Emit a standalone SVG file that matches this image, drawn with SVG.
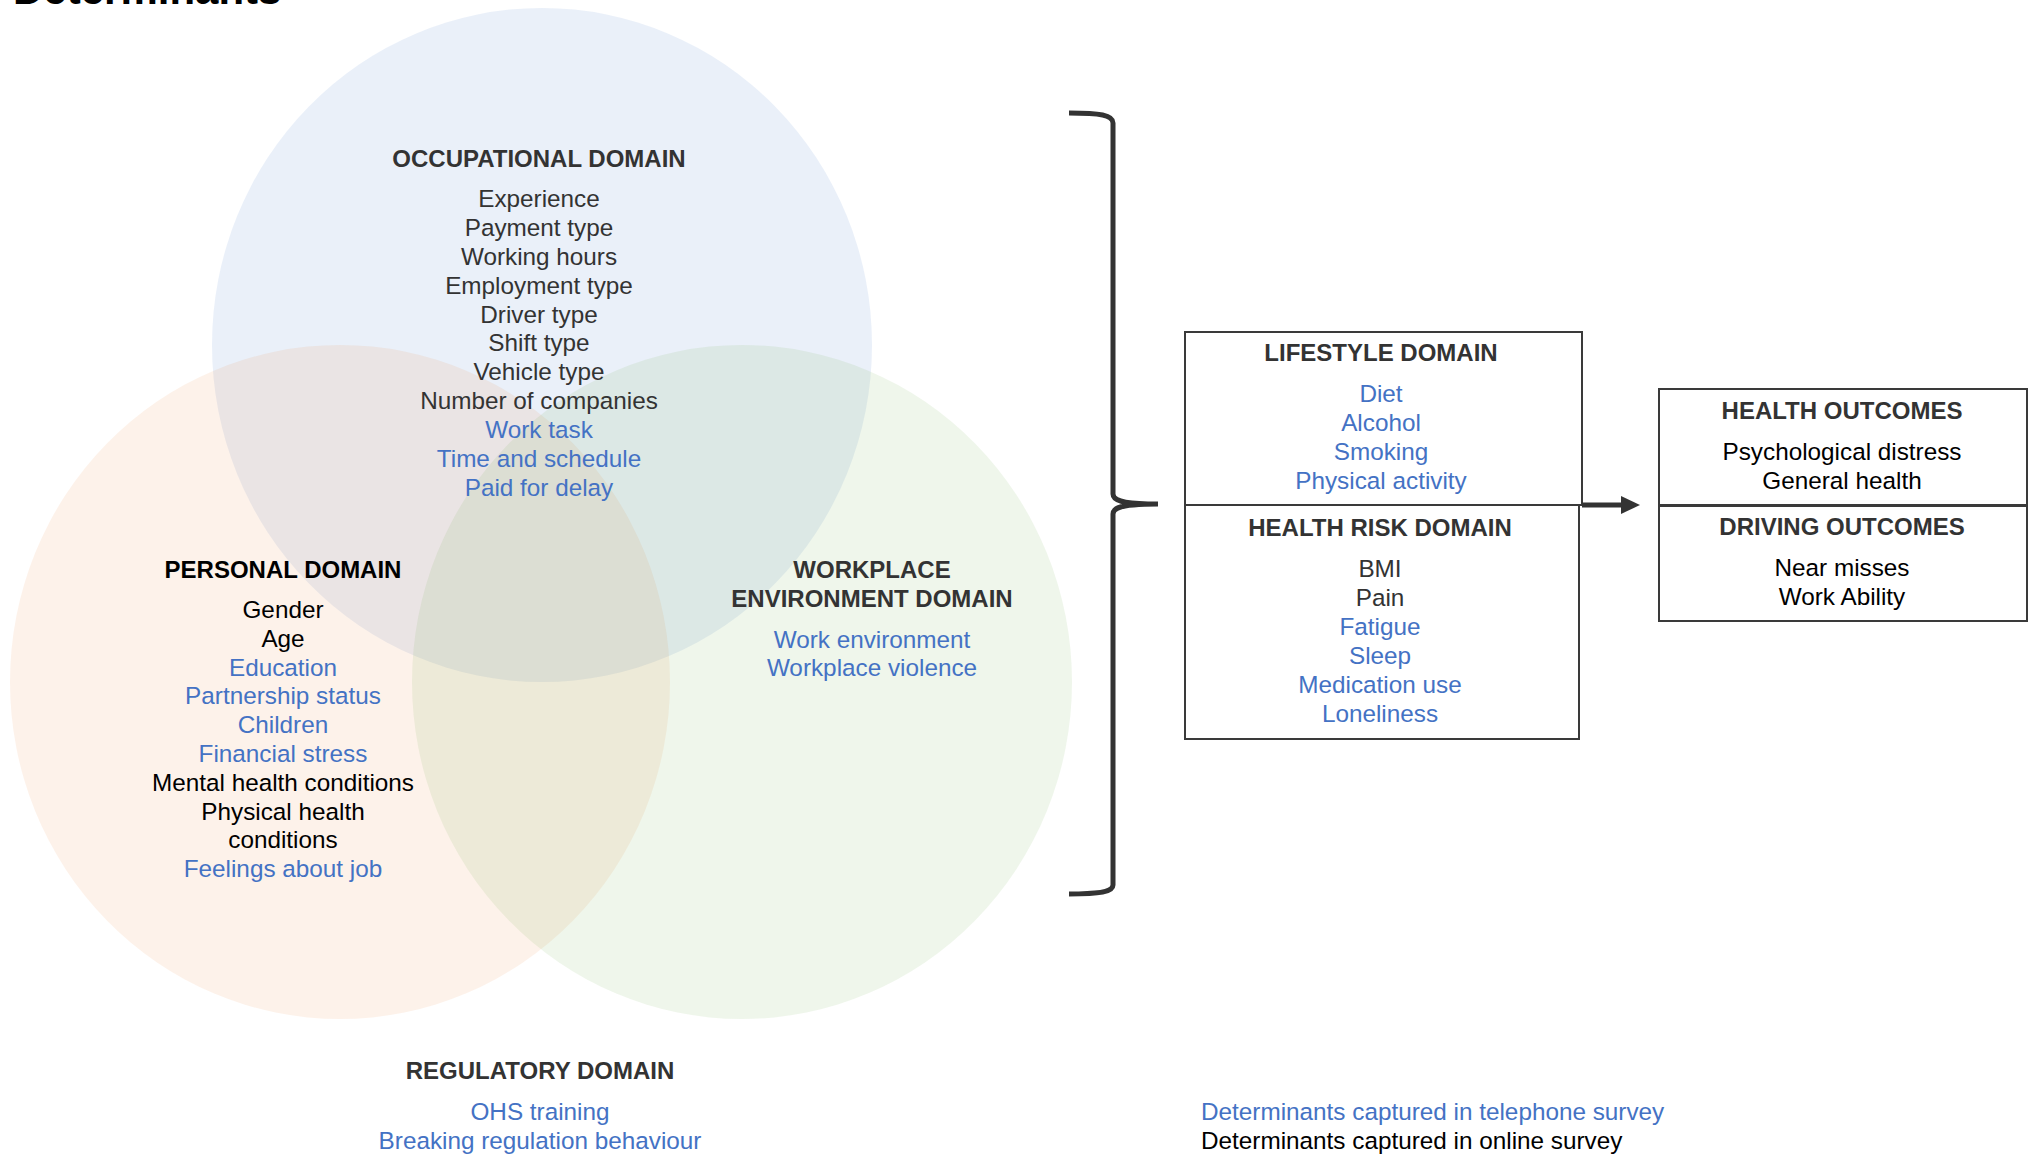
<svg xmlns="http://www.w3.org/2000/svg" width="2031" height="1154" viewBox="0 0 2031 1154">
<style>
  text { font-family: "Liberation Sans", Arial, Helvetica, sans-serif; }
  .h { font-weight: bold; font-size: 24px; fill: #333; text-anchor: middle; }
  .hk { fill: #000; }
  .t { font-size: 24.3px; text-anchor: middle; }
  .g { fill: #333; }
  .k { fill: #000; }
  .b { fill: #4472C4; }
  .box { fill: none; stroke: #3a3a3a; stroke-width: 2; }
  .conn { fill: none; stroke: #333; stroke-width: 5; }
</style>
<rect width="2031" height="1154" fill="#fff"/>

<g id="title">
  <text x="13" y="4" style="font-weight:bold;font-size:42px;fill:#000">Determinants</text>
</g>

<g id="circles">
  <ellipse id="circle-occupational" cx="542" cy="345" rx="330" ry="337" fill="#4472C4" fill-opacity="0.11"/>
  <ellipse id="circle-personal" cx="340" cy="682" rx="330" ry="337" fill="#ED7D31" fill-opacity="0.1"/>
  <ellipse id="circle-workplace" cx="742" cy="682" rx="330" ry="337" fill="#70AD47" fill-opacity="0.11"/>
</g>

<g id="occupational-domain">
  <text class="h" x="539" y="167">OCCUPATIONAL DOMAIN</text>
  <text class="t g" x="539" y="207">Experience</text>
  <text class="t g" x="539" y="236">Payment type</text>
  <text class="t g" x="539" y="265">Working hours</text>
  <text class="t g" x="539" y="294">Employment type</text>
  <text class="t g" x="539" y="323">Driver  type</text>
  <text class="t g" x="539" y="351">Shift type</text>
  <text class="t g" x="539" y="380">Vehicle type</text>
  <text class="t g" x="539" y="409">Number of companies</text>
  <text class="t b" x="539" y="438">Work task</text>
  <text class="t b" x="539" y="467">Time  and schedule</text>
  <text class="t b" x="539" y="496">Paid for delay</text>
</g>

<g id="personal-domain">
  <text class="h hk" x="283" y="578">PERSONAL DOMAIN</text>
  <text class="t k" x="283" y="618">Gender</text>
  <text class="t k" x="283" y="647">Age</text>
  <text class="t b" x="283" y="676">Education</text>
  <text class="t b" x="283" y="704">Partnership status</text>
  <text class="t b" x="283" y="733">Children</text>
  <text class="t b" x="283" y="762">Financial stress</text>
  <text class="t k" x="283" y="791">Mental health conditions</text>
  <text class="t k" x="283" y="820">Physical health</text>
  <text class="t k" x="283" y="848">conditions</text>
  <text class="t b" x="283" y="877">Feelings about job</text>
</g>

<g id="workplace-domain">
  <text class="h" x="872" y="578">WORKPLACE</text>
  <text class="h" x="872" y="607">ENVIRONMENT DOMAIN</text>
  <text class="t b" x="872" y="648">Work environment</text>
  <text class="t b" x="872" y="676">Workplace violence</text>
</g>

<g id="regulatory-domain">
  <text class="h" x="540" y="1079">REGULATORY DOMAIN</text>
  <text class="t b" x="540" y="1120">OHS training</text>
  <text class="t b" x="540" y="1149">Breaking regulation behaviour</text>
</g>

<g id="lifestyle-domain">
  <rect class="box" x="1185" y="332" width="397" height="173"/>
  <text class="h" x="1381" y="361">LIFESTYLE DOMAIN</text>
  <text class="t b" x="1381" y="402">Diet</text>
  <text class="t b" x="1381" y="431">Alcohol</text>
  <text class="t b" x="1381" y="460">Smoking</text>
  <text class="t b" x="1381" y="489">Physical activity</text>
</g>

<g id="health-risk-domain">
  <rect class="box" x="1185" y="505" width="394" height="234"/>
  <text class="h" x="1380" y="536">HEALTH RISK DOMAIN</text>
  <text class="t g" x="1380" y="577">BMI</text>
  <text class="t g" x="1380" y="606">Pain</text>
  <text class="t b" x="1380" y="635">Fatigue</text>
  <text class="t b" x="1380" y="664">Sleep</text>
  <text class="t b" x="1380" y="693">Medication use</text>
  <text class="t b" x="1380" y="722">Loneliness</text>
</g>

<g id="health-outcomes">
  <rect class="box" x="1659" y="389" width="368" height="116"/>
  <text class="h" x="1842" y="419">HEALTH OUTCOMES</text>
  <text class="t k" x="1842" y="460">Psychological distress</text>
  <text class="t k" x="1842" y="489">General health</text>
</g>

<g id="driving-outcomes">
  <rect class="box" x="1659" y="506" width="368" height="115"/>
  <text class="h" x="1842" y="535">DRIVING OUTCOMES</text>
  <text class="t k" x="1842" y="576">Near misses</text>
  <text class="t k" x="1842" y="605">Work Ability</text>
</g>

<g id="legend">
  <text x="1201" y="1120" style="font-size:24.3px;fill:#4472C4">Determinants captured in telephone survey</text>
  <text x="1201" y="1149" style="font-size:24.3px;fill:#000">Determinants captured in online survey</text>
</g>

<g id="connectors">
  <path class="conn" d="M1069,113 C1100,113 1113,115 1113,123 L1113,494 C1113,500 1120,504 1158,504 C1120,504 1113,508 1113,514 L1113,885 C1113,892 1100,894 1069,894"/>
  <line x1="1582" y1="505" x2="1624" y2="505" stroke="#333" stroke-width="5"/>
  <polygon points="1621,496 1640,505 1621,514" fill="#333"/>
</g>
</svg>
